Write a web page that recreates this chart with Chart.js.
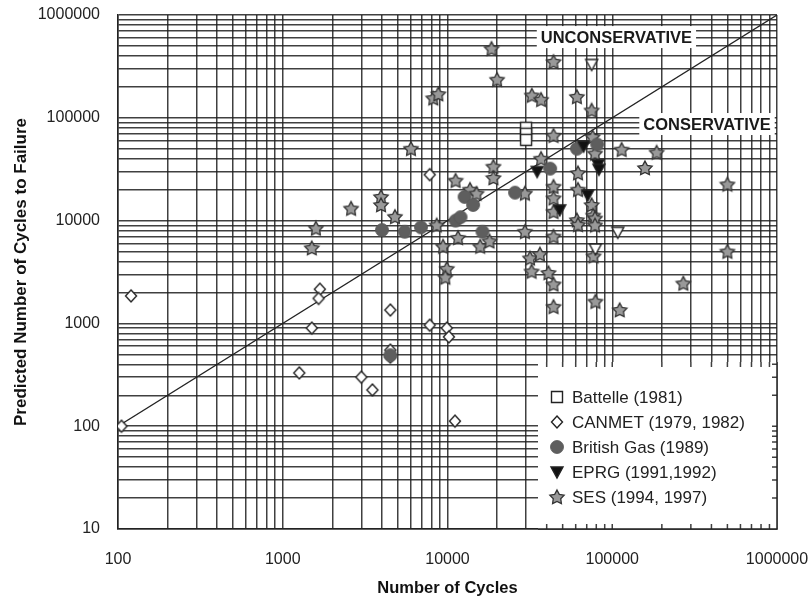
<!DOCTYPE html>
<html>
<head>
<meta charset="utf-8">
<script src="https://cdn.jsdelivr.net/npm/chart.js@4.4.1/dist/chart.umd.min.js"></script>
<style>
  html, body { margin: 0; padding: 0; background: #fff; }
  #wrap { width: 811px; height: 601px; }
</style>
</head>
<body>
<div id="wrap"><canvas id="fatigue" width="811" height="601"></canvas></div>
<script>
// decades and their labels
const xDecades = [100, 1000, 10000, 100000, 1000000];
const xTickLabels = ['100', '1000', '10000', '100000', '1000000'];
const yDecades = [10, 100, 1000, 10000, 100000, 1000000];
const yTickLabels = ['10', '100', '1000', '10000', '100000', '1000000'];

const legendLabels = ['Battelle (1981)', 'CANMET (1979, 1982)', 'British Gas (1989)', 'EPRG (1991,1992)', 'SES (1994, 1997)'];

// [number of cycles, predicted cycles to failure]
const battellePoints = [[30000, 80000], [30000, 70000], [30000, 61000]];

const canmetPoints = [
  [120, 1850], [105, 100], [1680, 2150], [1650, 1750], [1500, 900], [1260, 330],
  [3000, 300], [3500, 225], [4500, 1350], [4500, 550], [4500, 470], [7800, 960],
  [7800, 28000], [9900, 900], [10200, 740], [11100, 112]
];

const britishGasPoints = [
  [4000, 8100], [5500, 7800], [6900, 8600], [11200, 10000], [12000, 10800],
  [12700, 17000], [14300, 14200], [16300, 7800], [25700, 18700], [42000, 32000],
  [61000, 50000], [81000, 55000], [4500, 490]
];

const eprgPoints = [
  [35000, 30000], [48000, 12700], [71000, 17700], [82000, 35000], [83000, 31500], [67000, 53000]
];

const eprgOpenPoints = [[75000, 330000], [108000, 7700], [79000, 5300]];

const sesPoints = [
  [1590, 8400], [1500, 5400], [2600, 13100], [3950, 17000], [3950, 14200], [4800, 10900],
  [6000, 50000], [8200, 155000], [8800, 170000], [8600, 9000], [9400, 5600], [9900, 3400],
  [9700, 2800], [11200, 24500], [11600, 6800], [13700, 20000], [15000, 18300], [15800, 5600],
  [18000, 6300], [19000, 33500], [19000, 26000], [18500, 470000], [20000, 235000],
  [29500, 18400], [29500, 7800], [32500, 165000], [37000, 150000], [37000, 40000],
  [31700, 4300], [36400, 4700], [32400, 3200], [41000, 3100], [44000, 350000], [44000, 67000],
  [44000, 21400], [44000, 16500], [44000, 12200], [44000, 7000], [44000, 2400], [44000, 1450],
  [61000, 160000], [62000, 29000], [62000, 20000], [61000, 10100], [62000, 9100],
  [75000, 118000], [76000, 65000], [78600, 45000], [75000, 14200], [76600, 11200], [78600, 10500],
  [78600, 9000], [77000, 4500], [79000, 1630], [111000, 1350], [114000, 49000],
  [158000, 32500], [186000, 46000], [270000, 2450], [500000, 22500], [500000, 5000]
];

// 1:1 line
const equalityX = [100, 1000000];
const equalityY = [100, 1000000];

const FONT = '"Liberation Sans", Arial, Helvetica, sans-serif';
const gridColor = 'rgba(30,30,30,0.85)';

function everyMinor(decades) {
    const out = [];
    decades.forEach((d, i) => {
        if (i === decades.length - 1) { out.push(d); return; }
        for (let k = 1; k < 10; k++) out.push(d * k);
    });
    return out;
}

function makeMarker(kind) {
    const s = 18;
    const c = document.createElement('canvas');
    c.width = s; c.height = s;
    const g = c.getContext('2d');
    const m = s / 2;
    g.strokeStyle = '#222';
    g.lineWidth = 1.4;
    g.beginPath();
    if (kind === 'square') {
        g.rect(m - 5.5, m - 5.5, 11, 11);
        g.fillStyle = '#fff';
    } else if (kind === 'diamond') {
        g.moveTo(m, m - 6); g.lineTo(m + 5.5, m); g.lineTo(m, m + 6); g.lineTo(m - 5.5, m); g.closePath();
        g.fillStyle = '#fff';
    } else if (kind === 'circle') {
        g.arc(m, m, 6.5, 0, Math.PI * 2);
        g.fillStyle = '#5e5e5e';
        g.strokeStyle = '#555';
        g.lineWidth = 0.8;
    } else if (kind === 'triangle' || kind === 'triangleOpen') {
        g.moveTo(m - 6, m - 5); g.lineTo(m + 6, m - 5); g.lineTo(m, m + 6); g.closePath();
        g.fillStyle = kind === 'triangle' ? '#111' : '#fff';
    } else if (kind === 'star') {
        for (let i = 0; i < 10; i++) {
            const r = i % 2 === 0 ? 7.5 : 3.9;
            const a = -Math.PI / 2 + i * Math.PI / 5;
            const px = m + r * Math.cos(a), py = m + 0.5 + r * Math.sin(a);
            if (i === 0) g.moveTo(px, py); else g.lineTo(px, py);
        }
        g.closePath();
        g.fillStyle = '#999';
        g.lineWidth = 1.3;
        g.strokeStyle = '#333';
    }
    g.fill();
    g.stroke();
    return c;
}

const markers = {
    square: makeMarker('square'),
    diamond: makeMarker('diamond'),
    circle: makeMarker('circle'),
    triangle: makeMarker('triangle'),
    triangleOpen: makeMarker('triangleOpen'),
    star: makeMarker('star')
};
const legendMarkers = [markers.square, markers.diamond, markers.circle, markers.triangle, markers.star];

function toXY(pairs) {
    return pairs.map(p => ({ x: p[0], y: p[1] }));
}

function scatterSet(label, pairs, marker) {
    return {
        type: 'scatter',
        label: label,
        data: toXY(pairs),
        pointStyle: marker,
        pointRadius: 6,
        pointHoverRadius: 6
    };
}

// white boxes behind the notes and the legend, drawn over the grid
const notesPlugin = {
    id: 'notes',
    beforeDatasetsDraw(chart) {
        const { ctx, chartArea } = chart;
        const xs = chart.scales.x, ys = chart.scales.y;
        ctx.save();

        // legend box in the lower right corner
        const boxL = 538, boxT = 362;
        const boxR = chartArea.right, boxB = chartArea.bottom;
        ctx.fillStyle = '#fff';
        ctx.fillRect(boxL, boxT, boxR - boxL, boxB - boxT);
        ctx.strokeStyle = gridColor;
        ctx.lineWidth = 1.5;
        ctx.beginPath();
        everyMinor(xDecades).forEach(v => {
            const px = xs.getPixelForValue(v);
            if (px > boxL + 4 && px < boxR - 2) {
                ctx.moveTo(px, boxT); ctx.lineTo(px, boxT + 5);
                ctx.moveTo(px, boxB); ctx.lineTo(px, boxB - 5);
            }
        });
        everyMinor(yDecades).forEach(v => {
            const py = ys.getPixelForValue(v);
            if (py > boxT + 2 && py < boxB - 2) {
                ctx.moveTo(boxR, py); ctx.lineTo(boxR - 5, py);
            }
        });
        ctx.stroke();
        ctx.strokeStyle = '#222';
        ctx.lineWidth = 1.5;
        ctx.beginPath();
        ctx.moveTo(boxL, boxB); ctx.lineTo(boxR, boxB); ctx.lineTo(boxR, boxT);
        ctx.stroke();

        ctx.font = '17px ' + FONT;
        ctx.fillStyle = '#222';
        ctx.textBaseline = 'middle';
        ctx.textAlign = 'left';
        legendLabels.forEach((txt, i) => {
            const cy = 397 + i * 25;
            const mk = legendMarkers[i];
            ctx.drawImage(mk, 557 - mk.width / 2, cy - mk.height / 2);
            ctx.fillText(txt, 572, cy + 1);
        });

        // region notes
        ctx.font = 'bold 16.5px ' + FONT;
        ctx.textAlign = 'center';
        [['UNCONSERVATIVE', 106000, 610000], ['CONSERVATIVE', 376000, 87000]].forEach(n => {
            const cx = xs.getPixelForValue(n[1]);
            const cy = ys.getPixelForValue(n[2]);
            const w = ctx.measureText(n[0]).width;
            ctx.fillStyle = '#fff';
            ctx.fillRect(cx - w / 2 - 4, cy - 11, w + 8, 22);
            ctx.fillStyle = '#1a1a1a';
            ctx.fillText(n[0], cx, cy + 1);
        });
        ctx.restore();
    }
};

const ctx = document.getElementById('fatigue').getContext('2d');
const fatigueChart = new Chart(ctx, {
    type: 'scatter',
    data: {
        datasets: [
            scatterSet(legendLabels[3], eprgPoints, markers.triangle),
            scatterSet(legendLabels[3], eprgOpenPoints, markers.triangleOpen),
            scatterSet(legendLabels[0], battellePoints, markers.square),
            scatterSet(legendLabels[2], britishGasPoints, markers.circle),
            scatterSet(legendLabels[1], canmetPoints, markers.diamond),
            scatterSet(legendLabels[4], sesPoints, markers.star),
            {
                type: 'line',
                label: '1:1',
                data: equalityX.map((v, i) => ({ x: v, y: equalityY[i] })),
                borderColor: '#222',
                borderWidth: 1.3,
                pointRadius: 0,
                fill: false
            }
        ]
    },
    options: {
        responsive: false,
        animation: false,
        layout: { padding: { left: 0, right: 34, top: 15, bottom: 0 } },
        plugins: {
            legend: { display: false },
            tooltip: { enabled: false }
        },
        scales: {
            x: {
                type: 'logarithmic',
                min: 100,
                max: 1000000,
                afterBuildTicks: s => { s.ticks = everyMinor(xDecades).map(v => ({ value: v })); },
                afterFit: s => { s.height = 72; },
                // invisible tick marks push the labels away from the axis
                grid: { color: gridColor, lineWidth: 1.5, drawTicks: true, tickLength: 19, tickColor: 'rgba(0,0,0,0)' },
                border: { color: '#222', width: 1.5 },
                ticks: {
                    autoSkip: false,
                    maxRotation: 0,
                    padding: 2,
                    color: '#222',
                    font: { family: FONT, size: 16 },
                    callback: v => {
                        const i = xDecades.indexOf(v);
                        return i >= 0 ? xTickLabels[i] : '';
                    }
                },
                title: {
                    display: true,
                    text: 'Number of Cycles',
                    color: '#111',
                    font: { family: FONT, size: 16.5, weight: 'bold' },
                    padding: { top: 0, bottom: 3 }
                }
            },
            y: {
                type: 'logarithmic',
                min: 10,
                max: 1000000,
                afterBuildTicks: s => { s.ticks = everyMinor(yDecades).map(v => ({ value: v })); },
                afterFit: s => { s.width = 118; },
                grid: { color: gridColor, lineWidth: 1.5, drawTicks: true, tickLength: 16, tickColor: 'rgba(0,0,0,0)' },
                border: { color: '#222', width: 1.5 },
                ticks: {
                    autoSkip: false,
                    padding: 2,
                    color: '#222',
                    font: { family: FONT, size: 16 },
                    callback: v => {
                        const i = yDecades.indexOf(v);
                        return i >= 0 ? yTickLabels[i] : '';
                    }
                },
                title: {
                    display: true,
                    text: 'Predicted Number of Cycles to Failure',
                    color: '#111',
                    font: { family: FONT, size: 17, weight: 'bold' },
                    padding: { top: 11, bottom: 0 }
                }
            }
        }
    },
    plugins: [notesPlugin]
});
</script>
</body>
</html>
